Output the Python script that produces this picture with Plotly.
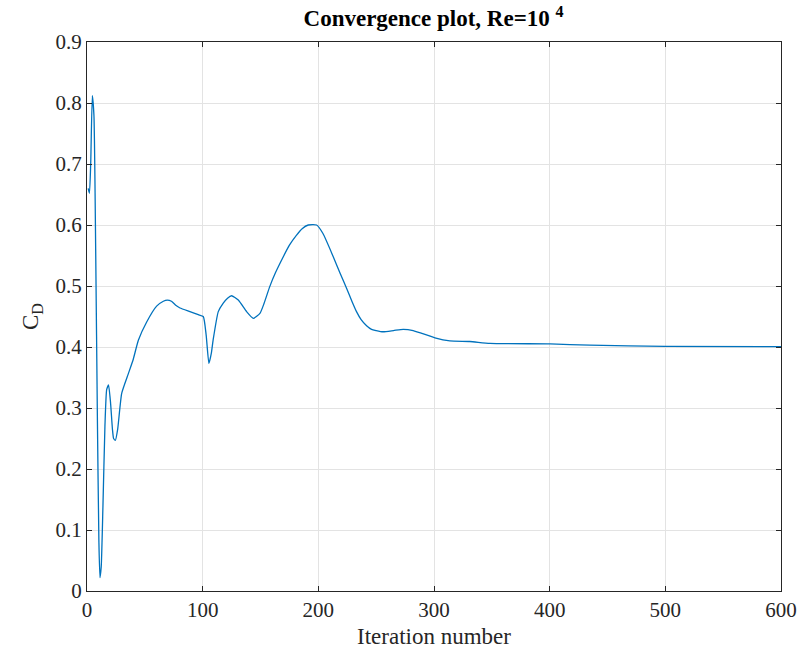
import plotly.graph_objects as go

iterations = [1, 2.1, 3.2, 4.6, 6.0, 7.5, 9.0, 10.3, 11.2, 12.3, 13.8, 15.5, 17.0, 18.6, 20.3, 22.0, 23.0, 24.5, 26.5, 30.0,
              35.7, 40.0, 44.4, 51.6, 60.2, 66.0, 69.4, 73.0, 77.0, 80.4, 89.0, 96.2, 100.5, 103.0, 105.4, 107.5, 109.0,
              113.5, 117.8, 121.5, 125.0, 130.8, 138.0, 143.8, 149.5, 153.0, 158.0, 163.0, 169.7, 175.0, 181.0, 186.0,
              191.3, 198.5, 204.0, 212.9, 219.0, 224.5, 229.0, 233.0, 237.0, 241.7, 246.0, 250.0, 256.0, 265.0, 273.4,
              282.0, 300.8, 313.7, 331.0, 348.3, 400.4, 434.7, 500.0, 600.0]
cd_values = [0.660, 0.652, 0.700, 0.812, 0.780, 0.560, 0.280, 0.080, 0.022, 0.040, 0.140, 0.270, 0.330, 0.338, 0.310, 0.265,
             0.250, 0.247, 0.265, 0.324, 0.356, 0.380, 0.411, 0.441, 0.467, 0.475, 0.477, 0.475, 0.468, 0.464, 0.458, 0.453,
             0.450, 0.420, 0.373, 0.390, 0.411, 0.458, 0.472, 0.480, 0.484, 0.477, 0.458, 0.447, 0.455, 0.471, 0.499,
             0.522, 0.548, 0.567, 0.583, 0.594, 0.600, 0.600, 0.586, 0.548, 0.520, 0.496, 0.475, 0.458, 0.445, 0.435,
             0.429, 0.427, 0.425, 0.427, 0.429, 0.427, 0.415, 0.410, 0.409, 0.406, 0.405, 0.403, 0.401, 0.4005]

x_ticks = [0, 100, 200, 300, 400, 500, 600]
y_ticks = [0, 0.1, 0.2, 0.3, 0.4, 0.5, 0.6, 0.7, 0.8, 0.9]
y_tick_labels = ["0", "0.1", "0.2", "0.3", "0.4", "0.5", "0.6", "0.7", "0.8", "0.9"]

fig = go.Figure()
fig.add_trace(go.Scatter(x=iterations, y=cd_values, mode="lines",
                         line=dict(color="#0072BD", width=1.3, shape="spline", smoothing=0.5),
                         showlegend=False))

axis_common = dict(showline=True, linecolor="#262626", linewidth=1, mirror="ticks",
                   ticks="inside", ticklen=5, tickcolor="#262626", automargin=False,
                   showgrid=True, gridcolor="#e3e3e3", gridwidth=1, zeroline=False,
                   tickfont=dict(family="Liberation Serif", size=21, color="#262626"))

fig.update_layout(
    width=802, height=658,
    margin=dict(l=87, r=21, t=42, b=67),
    paper_bgcolor="white", plot_bgcolor="white",
    title=dict(text="<b>Convergence plot, Re=10 <sup>4</sup></b>", x=0.5406, xanchor="center",
               y=0.972, yanchor="middle", automargin=False,
               font=dict(family="Liberation Serif", size=23, color="black")),
    xaxis=dict(range=[0, 600], tickvals=x_ticks, ticktext=[str(v) for v in x_ticks],
               title=dict(text="Iteration number", standoff=6,
                          font=dict(family="Liberation Serif", size=23, color="#262626")),
               **axis_common),
    yaxis=dict(range=[0, 0.9], tickvals=y_ticks, ticktext=y_tick_labels,
               title=dict(text="C<sub>D</sub>", standoff=10,
                          font=dict(family="Liberation Serif", size=23, color="#262626")),
               **axis_common),
)

fig.write_html("out.html")
